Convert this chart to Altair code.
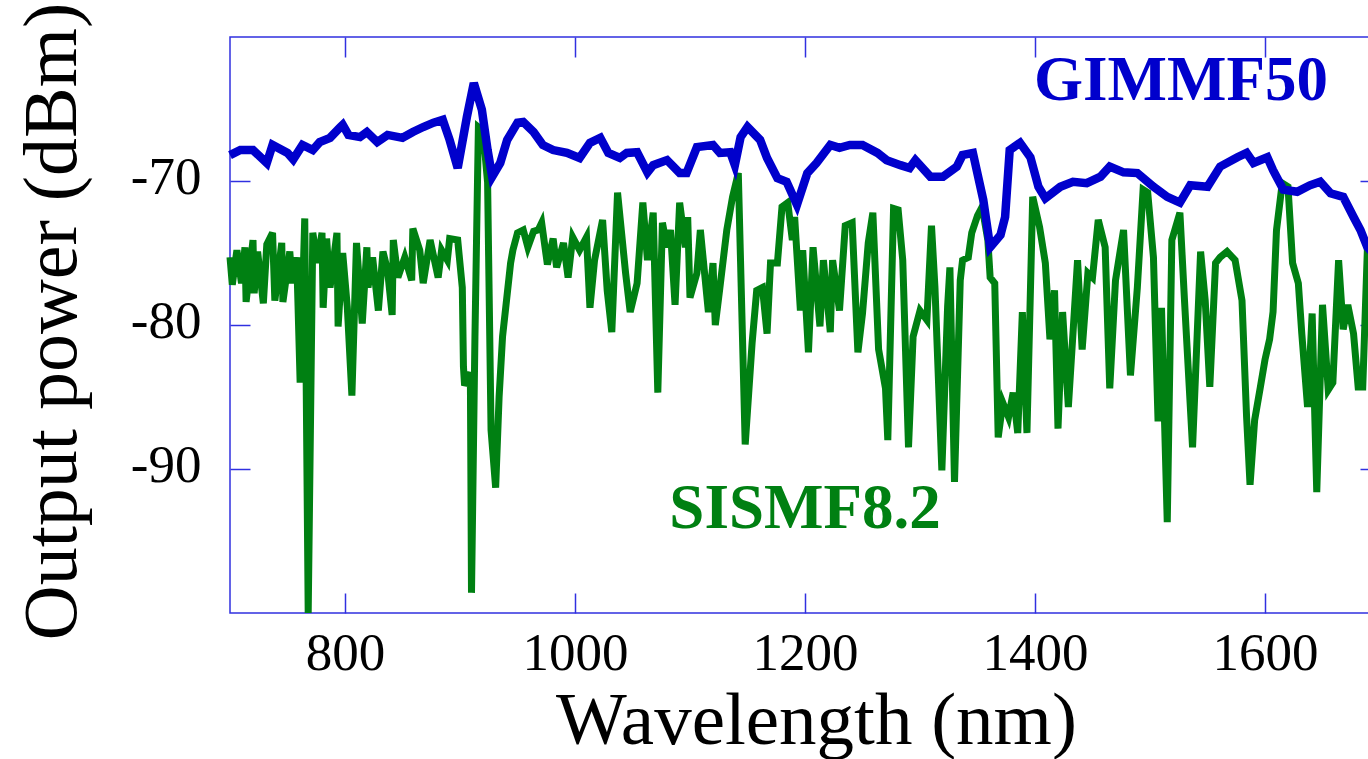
import altair as alt
import pandas as pd

# GIMMF50 (blue) trace
blue_wl = [700, 709, 720, 732, 737, 750, 755, 763, 772, 778, 787, 796, 798, 803, 813, 819, 828, 837,
           850, 859, 868, 877, 885, 891, 898, 906, 912, 919, 924, 928, 935, 941, 950, 955, 964, 972,
           981, 993, 1004, 1013, 1022, 1029, 1039, 1045, 1054, 1063, 1068, 1080, 1091, 1097, 1106,
           1120, 1126, 1135, 1139, 1144, 1150, 1161, 1167, 1176, 1184, 1193, 1202, 1210, 1222, 1230,
           1239, 1250, 1263, 1271, 1283, 1291, 1296, 1309, 1320, 1332, 1337, 1346, 1355, 1361, 1370,
           1374, 1378, 1387, 1396, 1403, 1409, 1422, 1433, 1445, 1457, 1465, 1477, 1489, 1503, 1515,
           1526, 1535, 1550, 1561, 1576, 1584, 1590, 1602, 1607, 1616, 1628, 1639, 1648, 1657, 1668,
           1677, 1683, 1689, 1700]
blue_db = [-68.2, -67.85, -67.85, -68.75, -67.5, -68.05, -68.5, -67.5, -67.85, -67.3, -67.0, -66.25,
           -66.1, -66.8, -66.95, -66.6, -67.3, -66.8, -67.0, -66.6, -66.25, -65.95, -65.75, -67.15,
           -69.1, -65.55, -63.2, -65.05, -67.85, -69.7, -68.75, -67.15, -65.95, -65.9, -66.6, -67.5,
           -67.85, -68.05, -68.4, -67.35, -67.0, -68.05, -68.4, -68.05, -68.0, -69.4, -68.9, -68.55,
           -69.45, -69.45, -67.65, -67.5, -68.05, -68.0, -68.9, -66.95, -66.25, -67.15, -68.4, -69.8,
           -70.05, -71.65, -69.45, -68.75, -67.5, -67.7, -67.5, -67.5, -68.05, -68.55, -68.9, -69.1,
           -68.55, -69.7, -69.7, -69.0, -68.2, -68.05, -71.3, -74.6, -73.75, -72.5, -67.85, -67.35,
           -68.35, -70.4, -71.2, -70.4, -70.05, -70.15, -69.7, -69.0, -69.4, -69.45, -70.4, -71.1,
           -71.5, -70.3, -70.4, -69.0, -68.35, -68.05, -68.75, -68.35, -69.25, -70.6, -70.75, -70.3,
           -70.05, -70.85, -71.1, -72.5, -73.4, -74.6, -75.5]

# SISMF8.2 (green) trace
green_wl = [700, 702, 706, 710, 713, 714, 720, 721, 724, 729, 732, 737, 739, 745, 746, 752, 754, 758,
            761, 765, 768, 772, 776, 780, 781, 784, 787, 793, 794, 798, 802, 806, 810, 815, 819, 820,
            824, 829, 833, 837, 841, 842, 846, 852, 858, 859, 865, 868, 874, 881, 884, 889, 891, 898,
            902, 903, 904, 909, 910, 913, 916, 920, 924, 927, 931, 934, 937, 944, 946, 950, 955, 959,
            964, 968, 971, 976, 981, 984, 990, 994, 998, 1004, 1010, 1013, 1017, 1024, 1028, 1032,
            1037, 1044, 1048, 1054, 1059, 1063, 1068, 1072, 1076, 1080, 1083, 1087, 1091, 1096, 1098,
            1100, 1106, 1109, 1116, 1120, 1122, 1126, 1132, 1137, 1142, 1148, 1154, 1158, 1163, 1167,
            1170, 1176, 1180, 1185, 1189, 1191, 1196, 1198, 1203, 1207, 1213, 1216, 1222, 1224, 1230,
            1235, 1241, 1246, 1250, 1255, 1259, 1264, 1270, 1272, 1277, 1281, 1285, 1290, 1294, 1300,
            1306, 1310, 1313, 1319, 1324, 1326, 1330, 1335, 1337, 1342, 1345, 1350, 1354, 1359, 1361,
            1365, 1368, 1372, 1377, 1381, 1385, 1389, 1393, 1398, 1404, 1409, 1413, 1417, 1420, 1424,
            1429, 1437, 1441, 1446, 1450, 1455, 1461, 1465, 1470, 1477, 1483, 1489, 1494, 1498, 1503,
            1507, 1510, 1515, 1519, 1526, 1530, 1537, 1544, 1548, 1552, 1557, 1561, 1567, 1574, 1580,
            1584, 1587, 1591, 1596, 1600, 1604, 1607, 1610, 1615, 1620, 1624, 1629, 1632, 1637, 1641,
            1645, 1650, 1655, 1659, 1664, 1668, 1672, 1677, 1681, 1685, 1689, 1700]
green_db = [-75.3, -77.2, -74.8, -77.1, -74.6, -78.4, -74.1, -77.8, -74.9, -78.5, -74.4, -73.6, -78.3,
            -74.3, -78.4, -74.9, -77.1, -75.3, -84.0, -72.6, -100.0, -73.6, -75.7, -73.6, -78.8, -74.0,
            -77.4, -73.6, -80.1, -75.0, -78.75, -84.9, -74.3, -79.9, -74.6, -77.4, -75.3, -79.0, -74.9,
            -76.2, -79.3, -74.1, -76.7, -75.3, -76.9, -73.3, -74.8, -77.1, -74.1, -76.7, -74.8, -75.5,
            -74.0, -74.1, -77.4, -82.9, -84.2, -83.3, -98.6, -80.8, -66.25, -66.5, -70.1, -87.3, -91.3,
            -85.0, -80.8, -75.7, -74.8, -73.6, -73.4, -74.6, -73.5, -73.4, -72.9, -75.8, -74.0, -76.0,
            -74.3, -76.7, -73.9, -74.8, -73.9, -78.8, -75.5, -72.7, -77.6, -80.5, -70.8, -76.4, -79.1,
            -77.1, -71.5, -75.5, -72.2, -84.7, -72.9, -74.6, -73.4, -78.6, -71.5, -74.6, -72.5, -78.1,
            -76.4, -73.4, -79.1, -75.7, -80.0, -77.4, -73.4, -71.1, -69.45, -88.3, -81.25, -77.6, -77.4,
            -80.6, -75.7, -75.7, -71.8, -71.5, -74.1, -72.5, -79.0, -74.8, -81.9, -74.6, -80.1, -75.5,
            -80.5, -75.5, -79.0, -73.1, -72.9, -81.9, -79.2, -74.3, -72.2, -81.7, -84.4, -88.0, -71.9,
            -72.0, -75.5, -88.5, -80.8, -79.0, -79.65, -73.1, -77.4, -90.1, -78.75, -76.0, -90.9, -76.9,
            -75.5, -75.3, -73.6, -72.4, -71.8, -74.1, -76.7, -77.1, -87.8, -85.4, -86.4, -84.7, -87.5,
            -79.1, -87.5, -71.1, -73.2, -75.7, -81.0, -77.6, -87.2, -79.1, -85.7, -75.5, -81.7, -76.4,
            -76.7, -72.7, -74.6, -84.4, -76.9, -73.4, -83.5, -77.4, -70.6, -70.8, -75.3, -86.7, -78.8,
            -93.7, -74.1, -72.2, -78.3, -88.5, -74.9, -78.3, -84.3, -75.7, -75.3, -74.9, -75.5, -78.3,
            -86.4, -91.1, -86.6, -84.3, -82.4, -81.0, -79.1, -73.4, -70.15, -70.4, -75.7, -77.1, -80.6,
            -85.7, -79.2, -91.6, -78.6, -84.5, -84.0, -75.5, -80.3, -78.6, -80.6, -84.3, -84.3, -74.8,
            -76.0]

x_ticks = [800, 1000, 1200, 1400, 1600]
y_ticks = [-90, -80, -70]

label_names = ["GIMMF50", "SISMF8.2"]
label_wl = [1527, 1200]
label_db = [-64.4, -94.1]
label_colors = ["#0000cc", "#008012"]

BLUE = "#0000cc"
GREEN = "#008012"
FRAME = "#3030e0"
FONT = "Liberation Serif"

blue_df = pd.DataFrame({"wl": blue_wl, "db": blue_db})
green_df = pd.DataFrame({"wl": green_wl, "db": green_db})
lab_df = pd.DataFrame({"name": label_names, "wl": label_wl, "db": label_db, "c": label_colors})

xscale = alt.Scale(domain=[700, 1700], nice=False, zero=False)
yscale = alt.Scale(domain=[-100, -60], nice=False, zero=False)

common_axis = dict(tickSize=20, tickColor=FRAME, tickWidth=1.5, domain=False, grid=False,
                   offset=-20)

x_bottom = alt.Axis(values=x_ticks, format="d", labelFontSize=53, labelFont=FONT,
                    labelColor="black", labelPadding=14,
                    title="Wavelength (nm)", titleFont=FONT, titleFontSize=75,
                    titleFontWeight="normal", titleColor="black",
                    titleBaseline="alphabetic", titleX=586, titleY=150,
                    orient="bottom", **common_axis)
y_left = alt.Axis(values=y_ticks, labelExpr="'-' + toString(abs(datum.value))",
                  labelFontSize=53, labelFont=FONT,
                  labelColor="black", labelPadding=29, labelOffset=-4,
                  title="Output power (dBm)", titleFont=FONT, titleFontSize=76,
                  titleFontWeight="normal", titleColor="black",
                  titleBaseline="alphabetic", titleX=-175, titleY=284,
                  orient="left", **common_axis)
x_top = alt.Axis(values=x_ticks, labels=False, title="", orient="top", **common_axis)
y_right = alt.Axis(values=y_ticks, labels=False, title="", orient="right", **common_axis)

green = alt.Chart(green_df).mark_line(color=GREEN, strokeWidth=7).encode(
    x=alt.X("wl:Q", scale=xscale, axis=x_top),
    y=alt.Y("db:Q", scale=yscale, axis=y_right),
)
blue = alt.Chart(blue_df).mark_line(color=BLUE, strokeWidth=8.5).encode(
    x=alt.X("wl:Q", scale=xscale, axis=x_bottom),
    y=alt.Y("db:Q", scale=yscale, axis=y_left),
)
labels = alt.Chart(lab_df).mark_text(font=FONT, fontSize=63, fontWeight="bold",
                                     align="center", baseline="alphabetic").encode(
    x=alt.X("wl:Q", scale=xscale, axis=None),
    y=alt.Y("db:Q", scale=yscale, axis=None),
    text="name:N",
    color=alt.Color("c:N", scale=None),
)

chart = alt.layer(green, blue, labels).resolve_axis(
    x="independent", y="independent"
).properties(
    width=1150, height=576,
    autosize=alt.AutoSizeParams(type="none"),
    padding={"left": 230, "top": 37, "right": -12, "bottom": 146},
).configure(background="white").configure_view(stroke=FRAME, strokeWidth=1.5)

chart.save("out.html", embed_options={"renderer": "svg", "actions": False})
